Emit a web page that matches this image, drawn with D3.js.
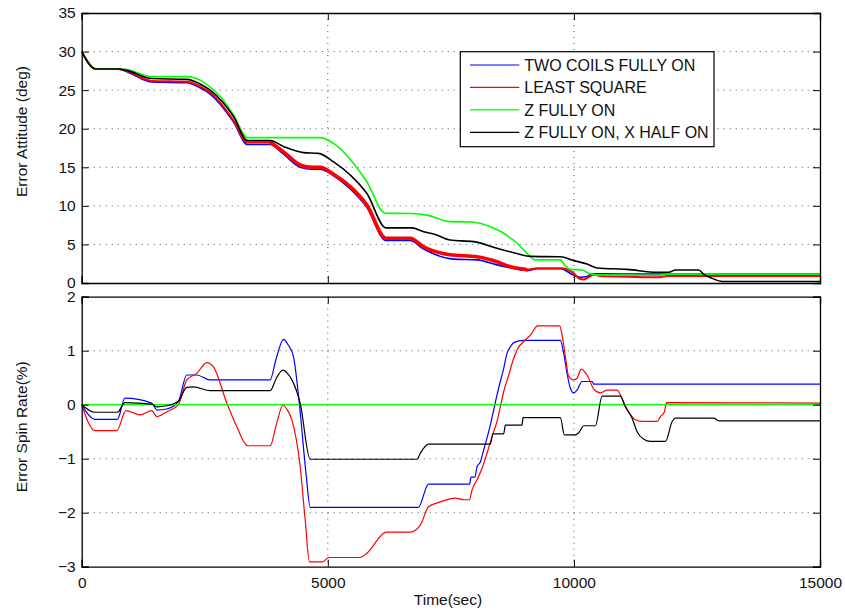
<!DOCTYPE html>
<html>
<head>
<meta charset="utf-8">
<script src="https://cdn.jsdelivr.net/npm/d3@7"></script>
<style>
  html, body { margin: 0; padding: 0; background: #fff; }
  svg { display: block; font-family: "Liberation Sans", Arial, sans-serif; }
</style>
</head>
<body>
<svg id="chart" width="845" height="614"></svg>
<script>
// Time axis
const timeDomain = [0, 15000];
const timeTicks = [0, 5000, 10000, 15000];

// Attitude error (deg) panel
const attDomain = [0, 35];
const attTicks = [0, 5, 10, 15, 20, 25, 30, 35];

// Spin rate error (%) panel
const spinDomain = [-3, 2];
const spinTicks = [-3, -2, -1, 0, 1, 2];

const seriesNames = ["TWO COILS FULLY ON", "LEAST SQUARE", "Z FULLY ON", "Z FULLY ON, X HALF ON"];
const seriesColors = ["#0000ff", "#ff0000", "#00ff00", "#000000"];

// [time (sec), attitude error (deg)]
const attBlue = [
  [0,30],[285,27.75],[745,27.75],[948,27.3],[1423,26.05],[2135,25.95],[2405,25.3],[2609,24.5],
  [3083,20.9],[3368,17.95],[3829,17.95],[4100,16.7],[4439,15.0],[4676,14.75],[4845,14.75],
  [5117,13.9],[5456,12.2],[5795,9.8],[6181,5.5],[6675,5.5],[6946,4.4],[7556,3.1],[8031,3.0],
  [8438,2.35],[8777,1.9],[9048,1.6],[9250,1.85],[9725,1.85],[10000,1.0],[10132,0.74],
  [10250,0.8],[10370,1.2],[11000,1.17],[15000,1.17]
];
const attRed = [
  [0,30],[285,27.75],[745,27.75],[948,27.4],[1423,26.2],[2135,26.1],[2405,25.5],[2609,24.7],
  [3083,21.1],[3368,18.2],[3829,18.2],[4100,17.0],[4439,15.3],[4676,15.0],[4845,15.0],
  [5117,14.1],[5456,12.5],[5795,10.1],[6181,5.8],[6675,5.8],[6946,4.7],[7488,3.65],[8031,3.4],
  [8438,2.75],[8709,2.1],[9048,1.75],[9250,1.9],[9725,1.9],[10000,1.25],[10098,0.6],
  [10200,0.45],[10336,0.9],[10403,1.1],[10539,0.9],[11081,0.82],[11691,0.74],[11895,0.9],[15000,0.9]
];
const attGreen = [
  [0,30],[285,27.75],[745,27.75],[900,27.7],[1423,26.75],[2135,26.75],[2405,26.3],[2609,25.4],
  [2812,24.2],[3083,21.8],[3368,18.85],[4845,18.85],[5117,18.1],[5524,15.5],[5795,13.1],
  [6167,9.05],[6710,9.0],[7015,8.8],[7488,7.95],[7930,7.9],[8302,7.3],[8573,6.45],[8845,5.15],
  [9048,3.85],[9217,3.0],[9725,3.0],[9827,2.2],[9929,1.77],[10166,1.69],[10302,1.25],
  [10471,1.05],[11700,1.0],[11900,1.15],[15000,1.15]
];
const attBlack = [
  [0,30],[285,27.75],[745,27.75],[948,27.5],[1423,26.5],[2135,26.4],[2405,25.8],[2609,25.0],
  [3083,21.6],[3368,18.45],[3829,18.45],[4100,17.7],[4507,16.9],[4812,16.8],[5117,15.7],
  [5456,14.0],[5795,11.6],[6181,7.15],[6710,7.15],[6946,6.65],[7184,6.3],[7488,5.57],
  [7964,5.36],[8438,4.5],[8777,3.93],[9116,3.45],[9725,3.4],[9997,2.9],[10268,2.46],
  [10471,1.95],[11081,1.77],[11691,1.39],[11928,1.39],[12064,1.69],[12538,1.69],[12640,1.12],
  [12809,0.6],[13013,0.2],[15000,0.2]
];

// [time (sec), spin rate error (%)]
const spinBlue = [
  [0,0],[270,-0.27],[725,-0.27],[880,0.12],[1423,0.03],[1530,-0.1],[1728,-0.08],[1965,0.06],
  [2135,0.55],[2338,0.55],[2609,0.46],[3829,0.46],[3950,0.85],[4100,1.21],[4200,1.1],[4303,0.89],
  [4424,0],[4560,-1.3],[4642,-1.9],[6840,-1.9],[7047,-1.47],[7881,-1.47],[7909,-1.34],[7990,-1.34],
  [8031,-1.15],[8099,-1.06],[8166,-0.84],[8234,-0.62],[8302,-0.38],[8370,-0.1],[8438,0.18],
  [8505,0.43],[8573,0.67],[8641,0.95],[8709,1.07],[8777,1.15],[8980,1.19],[9725,1.19],
  [9793,0.95],[9861,0.58],[9929,0.3],[9997,0.22],[10064,0.27],[10166,0.43],[10370,0.43],
  [10403,0.38],[15000,0.38]
];
const spinRed = [
  [0,0],[270,-0.48],[712,-0.48],[901,-0.11],[1185,-0.19],[1423,-0.11],[1525,-0.22],[1728,-0.13],
  [1965,0],[2135,0.46],[2338,0.58],[2541,0.78],[2677,0.7],[2948,0.03],[3152,-0.41],[3368,-0.76],
  [3829,-0.76],[3960,-0.35],[4087,-0.01],[4180,-0.1],[4270,-0.28],[4439,-1.15],[4541,-2.14],
  [4628,-2.91],[4900,-2.91],[5016,-2.83],[5659,-2.83],[5795,-2.75],[6187,-2.36],[6675,-2.36],
  [6879,-2.23],[7047,-1.89],[7285,-1.8],[7590,-1.73],[7760,-1.76],[7880,-1.76],[7930,-1.58],
  [8031,-1.39],[8133,-1.18],[8234,-0.9],[8336,-0.59],[8438,-0.31],[8505,-0.04],[8573,0.24],
  [8675,0.55],[8777,0.86],[8878,1.07],[8980,1.17],[9116,1.29],[9265,1.46],[9711,1.46],
  [9760,1.29],[9827,0.89],[9895,0.52],[9997,0.46],[10064,0.49],[10147,0.66],[10268,0.55],
  [10403,0.29],[10539,0.22],[10675,0.27],[10878,0.27],[11013,0.03],[11149,-0.19],[11250,-0.28],
  [11386,-0.31],[11691,-0.31],[11759,-0.22],[11840,-0.13],[11881,0.04],[15000,0.03]
];
const spinGreen = [[0,0],[15000,0]];
const spinBlack = [
  [0,0],[270,-0.14],[725,-0.14],[880,0.04],[1423,0.01],[1525,-0.04],[1728,-0.02],[1965,0.07],
  [2135,0.32],[2270,0.33],[2609,0.26],[3829,0.26],[3960,0.5],[4087,0.64],[4180,0.58],[4270,0.46],
  [4439,0.03],[4642,-1.01],[6811,-1.01],[6879,-0.9],[7047,-0.73],[8302,-0.73],[8356,-0.54],
  [8573,-0.54],[8607,-0.38],[8946,-0.38],[8966,-0.24],[9725,-0.24],[9807,-0.56],[10031,-0.56],
  [10098,-0.52],[10200,-0.39],[10437,-0.39],[10573,0.16],[10946,0.16],[11047,-0.04],[11183,-0.25],
  [11284,-0.5],[11420,-0.64],[11555,-0.68],[11861,-0.68],[11996,-0.31],[12064,-0.25],[12843,-0.25],
  [12945,-0.3],[15000,-0.3]
];

// Noisy stretch of the least-square attitude trace, drawn as a wider band
const attRedNoisyRange = [3829, 9100];

const svg = d3.select("#chart");
const left = 81.7, right = 820;
const panels = [
  { top: 13, bottom: 283, domain: attDomain, ticks: attTicks, series: [attBlue, attRed, attGreen, attBlack],
    width: 1.6, label: "Error Attitude (deg)", labelY: 131.5, xLabels: false, id: "att" },
  { top: 296.7, bottom: 566.7, domain: spinDomain, ticks: spinTicks, series: [spinBlue, spinRed, spinGreen, spinBlack],
    width: 1.2, label: "Error Spin Rate(%)", labelY: 426.7, xLabels: true, id: "spin" }
];

const x = d3.scaleLinear().domain(timeDomain).range([left, right]);

panels.forEach(p => {
  const y = d3.scaleLinear().domain(p.domain).range([p.bottom, p.top]);
  const g = svg.append("g");

  g.append("clipPath").attr("id", "clip-" + p.id)
    .append("rect").attr("x", left).attr("y", p.top)
    .attr("width", right - left).attr("height", p.bottom - p.top);

  // dotted grid
  const grid = g.append("g").attr("stroke", "#444").attr("stroke-width", 0.9)
    .attr("stroke-dasharray", "1,5");
  timeTicks.slice(1, -1).forEach(t => {
    grid.append("line").attr("x1", x(t)).attr("x2", x(t)).attr("y1", p.top).attr("y2", p.bottom);
  });
  p.ticks.slice(1, -1).forEach(v => {
    grid.append("line").attr("x1", left).attr("x2", right).attr("y1", y(v)).attr("y2", y(v));
  });

  // data lines
  const line = d3.line().x(d => x(d[0])).y(d => y(d[1])).curve(d3.curveMonotoneX);
  const lines = g.append("g").attr("clip-path", `url(#clip-${p.id})`).attr("fill", "none")
    .attr("stroke-linejoin", "round");
  p.series.forEach((s, i) => {
    if (p.id === "att" && i === 1) {
      lines.append("path").datum(s.filter(d => d[0] >= attRedNoisyRange[0] && d[0] <= attRedNoisyRange[1]))
        .attr("d", line).attr("stroke", seriesColors[i]).attr("stroke-width", 3.6);
    }
    lines.append("path").datum(s).attr("d", line)
      .attr("stroke", seriesColors[i]).attr("stroke-width", p.id === "att" && i === 1 ? 2 : p.width);
  });

  // axes with inward ticks on all four sides
  const tickLen = 7;
  const axL = d3.axisLeft(y).tickValues(p.ticks).tickSize(-tickLen).tickPadding(6).tickFormat(d3.format("d"));
  const axR = d3.axisRight(y).tickValues(p.ticks).tickSize(-tickLen).tickFormat("");
  const axT = d3.axisTop(x).tickValues(timeTicks).tickSize(-tickLen).tickFormat("");
  const axB = d3.axisBottom(x).tickValues(timeTicks).tickSize(-tickLen).tickPadding(10)
    .tickFormat(p.xLabels ? d3.format("d") : "");

  const styleAxis = sel => {
    sel.selectAll("path").attr("stroke", "#000").attr("stroke-width", 1.3);
    sel.selectAll("line").attr("stroke", "#000").attr("stroke-width", 1);
    sel.selectAll("text").attr("font-size", "15.5px").attr("fill", "#111")
      .attr("font-family", "Liberation Sans, Arial, sans-serif");
    sel.attr("font-family", null);
  };
  g.append("g").attr("transform", `translate(${left},0)`).call(axL).call(styleAxis);
  g.append("g").attr("transform", `translate(${right},0)`).call(axR).call(styleAxis);
  g.append("g").attr("transform", `translate(0,${p.top})`).call(axT).call(styleAxis);
  g.append("g").attr("transform", `translate(0,${p.bottom})`).call(axB).call(styleAxis);
  g.selectAll(".domain").attr("d", function() { return d3.select(this).attr("d"); });

  // y label
  g.append("text").attr("transform", `translate(26.5,${p.labelY}) rotate(-90)`)
    .attr("text-anchor", "middle").attr("font-size", "15.5px").attr("fill", "#111")
    .text(p.label);
});

// x label
svg.append("text").attr("x", 448).attr("y", 605).attr("text-anchor", "middle")
  .attr("font-size", "15.5px").attr("fill", "#111").text("Time(sec)");

// legend
const legend = svg.append("g");
legend.append("rect").attr("x", 460.3).attr("y", 51.7).attr("width", 253.7).attr("height", 95)
  .attr("fill", "#fff").attr("stroke", "#000").attr("stroke-width", 1.2);
const legendRows = d3.scaleLinear().domain([0, 3]).range([65, 132.3]);
seriesNames.forEach((name, i) => {
  const yy = legendRows(i);
  legend.append("line").attr("x1", 470).attr("x2", 519.3).attr("y1", yy).attr("y2", yy)
    .attr("stroke", seriesColors[i]).attr("stroke-width", 1.2);
  legend.append("text").attr("x", 524.3).attr("y", yy + 5.8).attr("font-size", "16px")
    .attr("fill", "#111").text(name);
});
</script>
</body>
</html>
